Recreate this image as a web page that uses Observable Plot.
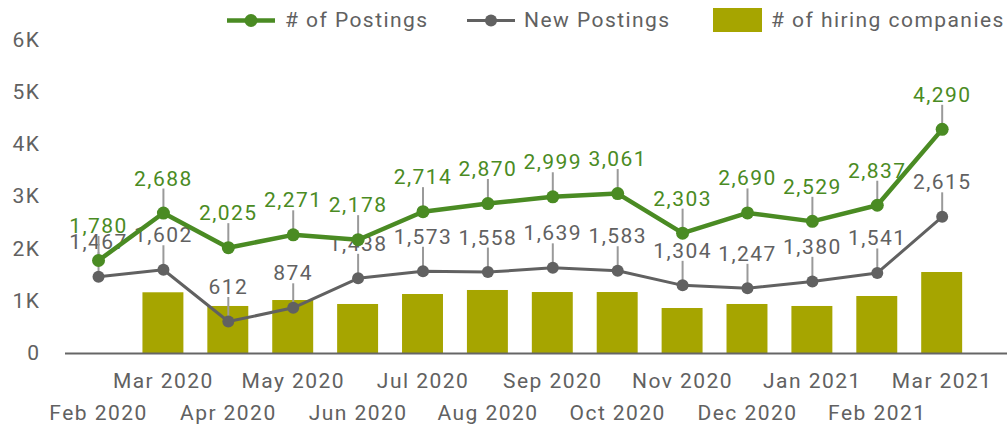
<!DOCTYPE html>
<html>
<head>
<meta charset="utf-8">
<script src="https://cdn.jsdelivr.net/npm/d3@7"></script>
<script src="https://cdn.jsdelivr.net/npm/@observablehq/plot@0.6"></script>
<style>
  html, body { margin: 0; padding: 0; background: #ffffff; }
  body { width: 1007px; height: 426px; overflow: hidden; font-family: Roboto, sans-serif; }
  #legend { position: relative; height: 32px; width: 1007px; color: #616161; font-size: 21px; letter-spacing: 1.45px; }
  #legend .sym { position: absolute; }
  #legend .lab { position: absolute; top: 7.5px; line-height: 24px; white-space: nowrap; }
  #chart svg { display: block; }
</style>
</head>
<body>
<div id="legend"></div>
<div id="chart"></div>
<script>
// ---- data ----
const months = ["Feb 2020","Mar 2020","Apr 2020","May 2020","Jun 2020","Jul 2020","Aug 2020",
                "Sep 2020","Oct 2020","Nov 2020","Dec 2020","Jan 2021","Feb 2021","Mar 2021"];
const postings = [1780, 2688, 2025, 2271, 2178, 2714, 2870, 2999, 3061, 2303, 2690, 2529, 2837, 4290];
const newPostings = [1467, 1602, 612, 874, 1438, 1573, 1558, 1639, 1583, 1304, 1247, 1380, 1541, 2615];
const hiringCompanies = [null, 1162, 900, 1014, 938, 1129, 1206, 1167, 1167, 861, 938, 900, 1091, 1550];
const yTicks = [0, 1000, 2000, 3000, 4000, 5000, 6000];
const seriesNames = ["# of Postings", "New Postings", "# of hiring companies"];

// ---- styles ----
const GREEN = "#4a8b23", GRAY = "#616161", OLIVE = "#a6a500", LEADER = "#9a9a9a";
const leaderLen = 460; // leader length in data units (~24px)

const table = months.map((m, i) => ({month: m, postings: postings[i], newPostings: newPostings[i], hiring: hiringCompanies[i]}));
const fmt = d3.format(",");
const upperRow = months.filter((m, i) => i % 2 === 1);
const lowerRow = months.filter((m, i) => i % 2 === 0);

// ---- legend ----
const legend = document.getElementById("legend");
legend.innerHTML = `
  <svg class="sym" style="left:227px;top:14px" width="48" height="13"><line x1="0" y1="6.5" x2="48" y2="6.5" stroke="${GREEN}" stroke-width="4.5"/><circle cx="24" cy="6.5" r="6.5" fill="${GREEN}"/></svg>
  <div class="lab" style="left:285px">${seriesNames[0]}</div>
  <svg class="sym" style="left:467px;top:14px" width="48" height="13"><line x1="0" y1="6.5" x2="48" y2="6.5" stroke="${GRAY}" stroke-width="3"/><circle cx="24" cy="6.5" r="6" fill="${GRAY}"/></svg>
  <div class="lab" style="left:524px">${seriesNames[1]}</div>
  <div class="sym" style="left:713px;top:8px;width:49px;height:24px;background:${OLIVE}"></div>
  <div class="lab" style="left:771px">${seriesNames[2]}</div>
`;

// ---- chart ----
const chart = Plot.plot({
  width: 1007,
  height: 394,
  marginLeft: 65,
  marginRight: 0,
  marginTop: 7.5,
  marginBottom: 73,
  x: {domain: months, range: [53.6, 986.1], padding: 0.369, round: false, axis: null},
  y: {domain: [0, 6000], range: [321, 7.5], axis: null},
  style: {fontFamily: "Roboto, sans-serif", fontSize: "21px", letterSpacing: "1.45px", background: "#ffffff", color: GRAY, overflow: "visible"},
  marks: [
    Plot.barY(table.filter(d => d.hiring != null), {x: "month", y: "hiring", fill: OLIVE}),
    Plot.ruleY([0], {stroke: "#666666", strokeWidth: 2}),
    // y tick labels
    Plot.text(yTicks, {y: d => d, text: d => d === 0 ? "0" : (d / 1000) + "K", frameAnchor: "left", textAnchor: "end", dx: -25, fill: GRAY, fontSize: 21}),
    // x tick labels (two rows)
    Plot.text(upperRow, {x: d => d, text: d => d, frameAnchor: "bottom", lineAnchor: "bottom", dy: 34, fill: GRAY, fontSize: 21}),
    Plot.text(lowerRow, {x: d => d, text: d => d, frameAnchor: "bottom", lineAnchor: "bottom", dy: 66, fill: GRAY, fontSize: 21}),
    // New Postings
    Plot.line(table, {x: "month", y: "newPostings", stroke: GRAY, strokeWidth: 3}),
    Plot.ruleX(table, {x: "month", y1: "newPostings", y2: d => d.newPostings + leaderLen, stroke: LEADER, strokeWidth: 2}),
    Plot.dot(table, {x: "month", y: "newPostings", r: 6, fill: GRAY}),
    Plot.text(table, {x: "month", y: "newPostings", text: d => fmt(d.newPostings), lineAnchor: "bottom", dy: -27.5, fill: GRAY, fontSize: 21}),
    // # of Postings
    Plot.line(table, {x: "month", y: "postings", stroke: GREEN, strokeWidth: 4.5}),
    Plot.ruleX(table, {x: "month", y1: "postings", y2: d => d.postings + leaderLen, stroke: LEADER, strokeWidth: 2}),
    Plot.dot(table, {x: "month", y: "postings", r: 6.5, fill: GREEN}),
    Plot.text(table, {x: "month", y: "postings", text: d => fmt(d.postings), lineAnchor: "bottom", dy: -27.5, fill: GREEN, fontSize: 21})
  ]
});
document.getElementById("chart").appendChild(chart);
</script>
</body>
</html>
